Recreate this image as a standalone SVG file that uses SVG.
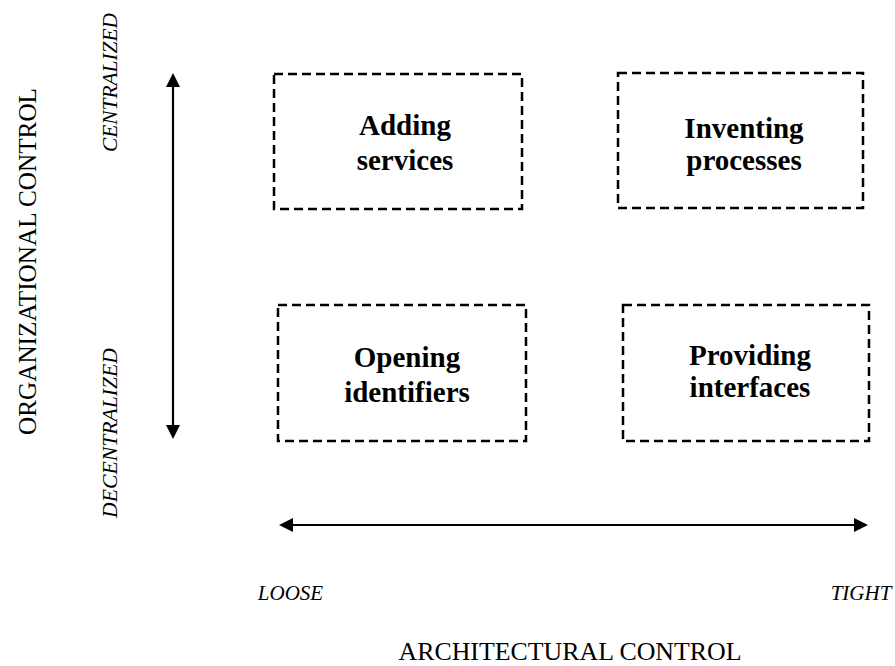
<svg xmlns="http://www.w3.org/2000/svg" width="895" height="666" viewBox="0 0 895 666">
  <style>
    .box { fill: none; stroke: #000; stroke-width: 2.5; stroke-dasharray: 9 5; }
    .lbl { font-family: "Liberation Serif", "Times New Roman", serif; font-weight: bold; font-size: 29px; fill: #000; text-anchor: middle; }
    .axis { font-family: "Liberation Serif", "Times New Roman", serif; font-size: 25px; fill: #000; text-anchor: middle; }
    .tick { font-family: "Liberation Serif", "Times New Roman", serif; font-style: italic; font-size: 21px; fill: #000; text-anchor: middle; }
    .arrow { stroke: #000; stroke-width: 2.2; fill: none; }
  </style>
  <defs>
    <marker id="head" viewBox="0 0 14 14" refX="2" refY="7" markerWidth="14" markerHeight="14" markerUnits="userSpaceOnUse" orient="auto-start-reverse">
      <path d="M0,0 L14,7 L0,14 z" fill="#000"/>
    </marker>
  </defs>
  <rect width="895" height="666" fill="#fff"/>

  <g id="connectors">
    <line class="arrow" x1="173" y1="85" x2="173" y2="427" marker-start="url(#head)" marker-end="url(#head)"/>
    <line class="arrow" x1="291" y1="525" x2="856" y2="525" marker-start="url(#head)" marker-end="url(#head)"/>
  </g>

  <g id="node-adding-services">
    <rect class="box" x="274" y="74" width="248" height="135"/>
    <text class="lbl" x="405" y="135">Adding</text>
    <text class="lbl" x="405" y="170">services</text>
  </g>
  <g id="node-inventing-processes">
    <rect class="box" x="618" y="73" width="245" height="135"/>
    <text class="lbl" x="744" y="138">Inventing</text>
    <text class="lbl" x="744" y="170">processes</text>
  </g>
  <g id="node-opening-identifiers">
    <rect class="box" x="278" y="305" width="248" height="136"/>
    <text class="lbl" x="407" y="367">Opening</text>
    <text class="lbl" x="407" y="402">identifiers</text>
  </g>
  <g id="node-providing-interfaces">
    <rect class="box" x="623" y="305" width="246" height="136"/>
    <text class="lbl" x="750" y="365">Providing</text>
    <text class="lbl" x="750" y="397">interfaces</text>
  </g>

  <g id="axis-labels">
    <text class="axis" transform="translate(36,261.5) rotate(-90)" textLength="347" lengthAdjust="spacingAndGlyphs">ORGANIZATIONAL CONTROL</text>
    <text class="tick" transform="translate(117,82.5) rotate(-90)" textLength="139" lengthAdjust="spacingAndGlyphs">CENTRALIZED</text>
    <text class="tick" transform="translate(117,433) rotate(-90)" textLength="170" lengthAdjust="spacingAndGlyphs">DECENTRALIZED</text>
    <text class="tick" x="290.5" y="600">LOOSE</text>
    <text class="tick" x="861" y="600">TIGHT</text>
    <text class="axis" x="570" y="660" font-size="26" textLength="343" lengthAdjust="spacingAndGlyphs">ARCHITECTURAL CONTROL</text>
  </g>
</svg>
